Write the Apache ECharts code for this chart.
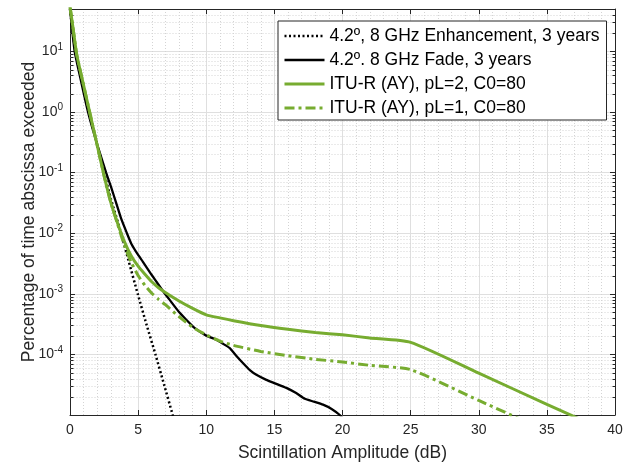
<!DOCTYPE html>
<html>
<head>
<meta charset="utf-8">
<script src="https://cdn.jsdelivr.net/npm/echarts@6/dist/echarts.min.js"></script>
<style>
html,body{margin:0;padding:0;background:#fff;}
#c{width:632px;height:466px;}
</style>
</head>
<body>
<div id="c"></div>
<script>
// ---- data ----
const seriesNames = [
  '4.2º, 8 GHz Enhancement, 3 years',
  '4.2º. 8 GHz Fade, 3 years',
  'ITU-R (AY), pL=2, C0=80',
  'ITU-R (AY), pL=1, C0=80'
];
const xTicks = [0, 5, 10, 15, 20, 25, 30, 35, 40];

const enhX = [0, 0.4, 1.4, 2.5, 3.0, 3.75, 4.3, 4.97, 5.6, 6.27, 6.9, 7.54, 7.8];
const enhY = [50, 10, 1, 0.1, 0.037, 0.01, 3.5e-3, 1e-3, 3.2e-4, 1e-4, 3.2e-5, 1e-5, 6.3e-6];

const fadeX = [0, 0.34, 0.8, 1.32, 2, 2.65, 3, 3.38, 3.75, 4.16, 4.5, 5, 5.34, 6, 6.5, 6.93, 7.3, 8, 8.5, 9.14, 10, 10.74, 11.2, 11.71, 12.2, 12.69, 13.2, 13.68, 14.41, 15.1, 15.88, 16.6, 17.23, 17.9, 18.57, 19.2, 19.8, 20.2];
const fadeY = [50, 10, 3.3, 1.0, 0.29, 0.1, 0.059, 0.032, 0.0175, 0.0102, 6.7e-3, 4.37e-3, 3.4e-3, 2.04e-3, 1.41e-3, 1.03e-3, 8.0e-4, 5.0e-4, 3.8e-4, 2.73e-4, 2.04e-4, 1.75e-4, 1.51e-4, 1.28e-4, 9.5e-5, 7.2e-5, 5.5e-5, 4.6e-5, 3.8e-5, 3.3e-5, 2.8e-5, 2.3e-5, 1.85e-5, 1.66e-5, 1.48e-5, 1.26e-5, 1.0e-5, 8e-6];

const ituX = [0, 0.25, 0.5, 1, 1.5, 2, 2.5, 3, 3.5, 4, 4.5, 5, 5.5, 6, 6.5, 7, 8, 9, 10, 11, 12, 14, 16, 18, 20, 22, 25, 30, 35, 40];
const itu2Y = [55, 22, 8.7, 2.75, 0.87, 0.28, 0.089, 0.032, 0.0145, 0.0072, 0.0042, 0.00285, 0.0021, 0.00158, 0.00126, 0.00105, 7.6e-4, 5.75e-4, 4.5e-4, 4.0e-4, 3.6e-4, 3.0e-4, 2.6e-4, 2.3e-4, 2.1e-4, 1.87e-4, 1.58e-4, 4.9e-5, 1.5e-5, 4.7e-6];
const itu1Y = [55, 22, 8.7, 2.75, 0.87, 0.28, 0.089, 0.032, 0.0140, 0.0062, 0.0033, 0.0020, 0.00138, 0.00102, 8.1e-4, 6.6e-4, 4.2e-4, 2.8e-4, 2.1e-4, 1.66e-4, 1.41e-4, 1.12e-4, 9.5e-5, 8.3e-5, 7.5e-5, 6.6e-5, 5.6e-5, 1.74e-5, 5.4e-6, 1.65e-6];

const yMin = 1e-5, yMax = 50;
const xMin = 0, xMax = 40;

// ---- helpers ----
const zip = (xs, ys) => xs.map((x, i) => [x, ys[i]]);
const minorY = [];
for (let k = -5; k <= 1; k++) {
  for (let m = 2; m <= 9; m++) {
    const v = m * Math.pow(10, k);
    if (v > yMin && v < yMax) minorY.push([xMin, v]);
  }
}

const AX = '#262626';
const GREEN = '#77AC30';
const FONT = '"Liberation Sans", Arial, Helvetica, sans-serif';

const chart = echarts.init(document.getElementById('c'), null, {renderer: 'canvas'});

function yLabel(v) {
  const l = Math.log10(v);
  const e = Math.round(l);
  if (Math.abs(l - e) > 1e-6 || e === -5) return '';
  return '{b|10}{s|' + e + '}';
}

const option = {
  backgroundColor: '#fff',
  animation: false,
  textStyle: {fontFamily: FONT},
  grid: {left: 70, right: 17, top: 9, bottom: 51, containLabel: false, outerBoundsMode: 'none'},
  legend: {
    data: seriesNames,
    orient: 'vertical',
    left: 278,
    top: 21,
    itemWidth: 40,
    itemHeight: 14,
    itemGap: 6,
    itemTextGap: 7,
    padding: [6, 7, 3, 5],
    backgroundColor: '#fff',
    borderColor: AX,
    borderWidth: 1,
    borderRadius: 0,
    itemStyle: {opacity: 0},
    lineStyle: {width: 'inherit'},
    textStyle: {fontSize: 17.5, color: '#000', fontFamily: FONT, lineHeight: 18},
    selectedMode: false
  },
  xAxis: [{
    type: 'value', min: xMin, max: xMax, interval: 5,
    name: 'Scintillation Amplitude (dB)', nameLocation: 'middle', nameGap: 29,
    nameMoveOverlap: false,
    nameTextStyle: {fontSize: 17.5, color: AX, fontFamily: FONT},
    axisLine: {show: true, onZero: false, lineStyle: {color: AX, width: 1}},
    axisTick: {show: true, inside: true, length: 5, lineStyle: {color: AX}},
    axisLabel: {fontSize: 14, color: AX, margin: 8, fontFamily: FONT,
      formatter: v => (xTicks.indexOf(v) >= 0 ? String(v) : '')},
    splitLine: {show: true, lineStyle: {color: '#dfdfdf', width: 1}},
    minorTick: {show: false, splitNumber: 5},
    minorSplitLine: {show: true, lineStyle: {color: '#d4d4d4', width: 1, type: [1, 2]}}
  }, {
    type: 'value', min: xMin, max: xMax, interval: 5, position: 'top',
    axisLine: {show: true, onZero: false, lineStyle: {color: AX, width: 1}},
    axisTick: {show: true, inside: true, length: 5, lineStyle: {color: AX}},
    axisLabel: {show: false},
    splitLine: {show: false}
  }],
  yAxis: [{
    type: 'log', logBase: 10, min: yMin, max: yMax,
    name: 'Percentage of time abscissa exceeded', nameLocation: 'middle', nameGap: 32,
    nameMoveOverlap: false,
    nameTextStyle: {fontSize: 17.5, color: AX, fontFamily: FONT},
    axisLine: {show: true, onZero: false, lineStyle: {color: AX, width: 1}},
    axisTick: {show: true, inside: true, length: 5, lineStyle: {color: AX}},
    axisLabel: {
      margin: 7, color: AX, formatter: yLabel,
      rich: {
        b: {fontSize: 14, color: AX, fontFamily: FONT},
        s: {fontSize: 10, color: AX, fontFamily: FONT, padding: [0, 0, 9, 0]}
      }
    },
    splitLine: {show: true, lineStyle: {color: '#dfdfdf', width: 1}}
  }, {
    type: 'log', logBase: 10, min: yMin, max: yMax, position: 'right',
    axisLine: {show: true, onZero: false, lineStyle: {color: AX, width: 1}},
    axisTick: {show: true, inside: true, length: 5, lineStyle: {color: AX}},
    axisLabel: {show: false},
    splitLine: {show: false}
  }],
  series: [
    {
      type: 'custom', name: 'minor', z: 1, silent: true,
      xAxisIndex: 0, yAxisIndex: 0,
      data: minorY,
      encode: {x: 0, y: 1},
      renderItem: function (params, api) {
        const v = api.value(1);
        const p0 = api.coord([xMin, v]);
        const p1 = api.coord([xMax, v]);
        const y = Math.round(p0[1]) + 0.5;
        const xl = Math.round(p0[0]) + 0.5;
        const xr = Math.round(p1[0]) + 0.5;
        return {
          type: 'group',
          children: [
            {type: 'line', shape: {x1: xl, y1: y, x2: xr, y2: y},
              style: {stroke: '#d4d4d4', lineWidth: 1, lineDash: [1, 2]}},
            {type: 'line', shape: {x1: xl, y1: y, x2: xl + 3, y2: y},
              style: {stroke: AX, lineWidth: 1}},
            {type: 'line', shape: {x1: xr - 3, y1: y, x2: xr, y2: y},
              style: {stroke: AX, lineWidth: 1}}
          ]
        };
      }
    },
    {
      name: seriesNames[0], type: 'line', symbol: 'none', showSymbol: false, z: 3,
      data: zip(enhX, enhY), smooth: 0.2,
      lineStyle: {color: '#000', width: 2.5, type: [2, 2.5], cap: 'butt'},
      itemStyle: {color: '#000'}
    },
    {
      name: seriesNames[1], type: 'line', symbol: 'none', showSymbol: false, z: 3,
      data: zip(fadeX, fadeY), smooth: 0.15,
      lineStyle: {color: '#000', width: 2.3},
      itemStyle: {color: '#000'}
    },
    {
      name: seriesNames[2], type: 'line', symbol: 'none', showSymbol: false, z: 4,
      data: zip(ituX, itu2Y), smooth: 0.2,
      lineStyle: {color: GREEN, width: 3},
      itemStyle: {color: GREEN}
    },
    {
      name: seriesNames[3], type: 'line', symbol: 'none', showSymbol: false, z: 4,
      data: zip(ituX, itu1Y), smooth: 0.2,
      lineStyle: {color: GREEN, width: 3, type: [10, 4, 3, 4]},
      itemStyle: {color: GREEN}
    }
  ]
};
chart.setOption(option);
</script>
</body>
</html>
